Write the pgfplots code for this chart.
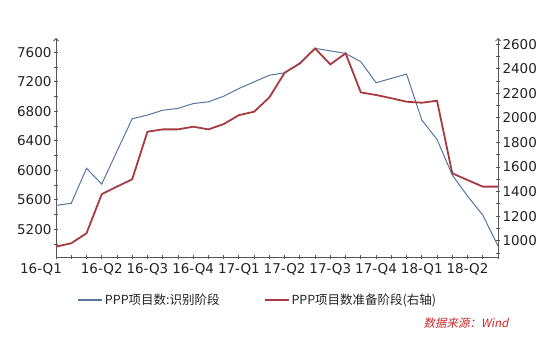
\documentclass[border=0pt]{standalone}
\usepackage{pgfplots}
\pgfplotsset{compat=1.18}
\usepackage{fontspec}
\setmainfont{Noto Sans CJK SC}
\newfontfamily\wmfont[FakeSlant=0.2]{Noto Sans CJK SC}
\newfontfamily\tickfont{DejaVu Sans}
\usetikzlibrary{arrows.meta}
\definecolor{bl}{RGB}{84,118,160}
\definecolor{rd}{RGB}{165,60,66}
\definecolor{axc}{RGB}{85,85,85}
\definecolor{txt}{RGB}{35,35,35}
\definecolor{wm}{RGB}{205,40,40}

\pgfplotstableread{
i v
0 5525
1 5553
2 6027
3 5814
4 6260
5 6700
6 6750
7 6815
8 6840
9 6905
10 6930
11 7005
12 7110
13 7200
14 7290
15 7323
16 7455
17 7655
18 7620
19 7586
20 7473
21 7188
22 7247
23 7306
24 6682
25 6420
26 5936
27 5652
28 5394
29 4975
}\blue

\pgfplotstableread{
i v
0 951
1 979
2 1060
3 1378
4 1440
5 1500
6 1887
7 1906
8 1906
9 1928
10 1906
11 1949
12 2022
13 2050
14 2167
15 2367
16 2443
17 2565
18 2435
19 2525
20 2207
21 2186
22 2160
23 2131
24 2123
25 2139
26 1548
27 1494
28 1440
29 1440
}\red

\pgfplotsset{
  common/.style={
    scale only axis, width=442pt, height=219pt,
    at={(56pt,80pt)}, anchor=south west,
    xmin=0, xmax=29,
    tick align=outside,
    major tick length=4pt, minor tick length=4pt,
    every tick/.style={axc, line width=0.8pt},
    every minor tick/.style={axc, line width=0.8pt},
    tick label style={font=\tickfont\fontsize{13.5}{15}\selectfont, text=txt},
    /pgf/number format/assume math mode=true,
    /pgf/number format/1000 sep={},
    axis line style={axc, line width=0.8pt},
    clip=false,
  }
}

\begin{document}
\begin{tikzpicture}[x=1pt,y=1pt]
\path[use as bounding box] (0,0) rectangle (556,337);
\begin{axis}[common,
  axis x line=bottom, axis y line=left,
  x axis line style={-},
  y axis line style={-{Straight Barb[length=2.5pt,width=5pt]}},
  ymin=4825, ymax=7795,
  ytick={5200,5600,...,7600}, minor ytick={5000,5400,...,7800},
  xtick={0,3,...,27},
  xticklabels={\hspace*{-30pt}16-Q1,16-Q2,16-Q3,16-Q4,17-Q1,17-Q2,17-Q3,17-Q4,18-Q1,18-Q2},
  minor xtick={1,2,4,5,7,8,10,11,13,14,16,17,19,20,22,23,25,26,28,29},
  xticklabel style={yshift=-1pt},
  yticklabel style={xshift=1pt},
]
\addplot[bl, line width=1pt, no marks] table[x=i,y=v]{\blue};
\end{axis}
\begin{axis}[common,
  axis x line=none, axis y line=right,
  y axis line style={-{Straight Barb[length=2.5pt,width=5pt]}},
  ymin=867, ymax=2650,
  ytick={1000,1200,...,2600}, minor ytick={900,1100,...,2500},
  yticklabel style={xshift=-1pt},
  legend style={at={(0.457,-0.196)}, anchor=center, draw=none, fill=none,
    legend columns=2, font=\fontsize{12.5}{14}\selectfont, text=txt,
    /tikz/every even column/.append style={column sep=42pt}},
  legend image code/.code={\draw[#1] (0pt,0pt) -- (24pt,0pt);},
]
\addlegendimage{bl, line width=1.2pt}
\addlegendentry{PPP项目数:识别阶段}
\addplot[rd, line width=1.8pt, no marks] table[x=i,y=v]{\red};
\addlegendentry{PPP项目数准备阶段(右轴)}
\end{axis}
\node[anchor=east, text=wm, font=\wmfont\fontsize{11.5}{13}\selectfont] at (512,14) {数据来源：Wind};
\end{tikzpicture}
\end{document}
